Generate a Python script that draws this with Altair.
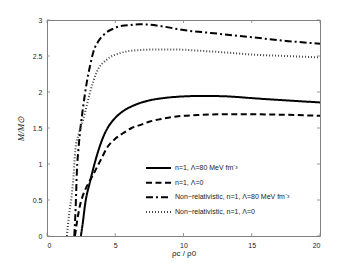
import altair as alt
import pandas as pd

# ---- data ----
series_names = [
    "n=1, Λ=80 MeV fm⁻³",
    "n=1, Λ=0",
    "Non−relativistic, n=1, Λ=80 MeV fm⁻³",
    "Non−relativistic, n=1, Λ=0",
]

s1_x = [2.48, 2.6, 2.8, 3.16, 3.45, 3.77, 4.13, 4.5, 4.9, 5.4, 5.84, 6.57, 7.42, 8.5, 9.5, 11, 12.5, 14, 15, 17, 20]
s1_y = [0, 0.15, 0.45, 0.76, 0.98, 1.19, 1.38, 1.52, 1.62, 1.71, 1.765, 1.83, 1.88, 1.915, 1.933, 1.944, 1.943, 1.93, 1.915, 1.89, 1.855]

s2_x = [2.05, 2.2, 2.45, 2.75, 3.05, 3.35, 3.7, 4.0, 4.38, 5.0, 5.59, 6.2, 6.81, 7.54, 8.5, 9.5, 11, 12.5, 14, 15, 17, 20]
s2_y = [0, 0.2, 0.45, 0.62, 0.74, 0.84, 0.97, 1.08, 1.22, 1.35, 1.43, 1.5, 1.54, 1.59, 1.63, 1.66, 1.68, 1.69, 1.69, 1.69, 1.685, 1.67]

s3_x = [2.0, 2.1, 2.19, 2.31, 2.45, 2.63, 2.92, 3.15, 3.4, 3.75, 4.13, 4.86, 5.5, 6.08, 6.8, 7.5, 8.5, 10, 12, 15, 17.5, 20]
s3_y = [0, 0.4, 0.9, 1.22, 1.5, 1.77, 2.14, 2.36, 2.56, 2.7, 2.79, 2.88, 2.92, 2.93, 2.94, 2.935, 2.91, 2.86, 2.82, 2.76, 2.71, 2.67]

s4_x = [1.46, 1.62, 1.8, 1.95, 2.07, 2.3, 2.67, 2.92, 3.16, 3.65, 4.38, 5.35, 6.57, 8, 9.5, 11, 13, 15, 17.5, 20]
s4_y = [0, 0.3, 0.55, 0.85, 1.19, 1.4, 1.63, 1.82, 2.0, 2.28, 2.45, 2.54, 2.58, 2.59, 2.59, 2.575, 2.55, 2.52, 2.5, 2.48]

x_ticks = [0, 5, 10, 15, 20]
y_ticks = [0, 0.5, 1, 1.5, 2, 2.5, 3]

rows = []
for name, xs_, ys_ in zip(series_names, [s1_x, s2_x, s3_x, s4_x], [s1_y, s2_y, s3_y, s4_y]):
    for i, (a, b) in enumerate(zip(xs_, ys_)):
        rows.append({"series": name, "x": a, "y": b, "i": i})
df = pd.DataFrame(rows)
leg_df = pd.DataFrame({"series": series_names})
xt_df = pd.DataFrame({"x": x_ticks})
yt_df = pd.DataFrame({"y": y_ticks})

W, H = 273, 216
FONT = "Liberation Sans"

dash_scale = alt.Scale(domain=series_names, range=[[1, 0], [6, 3.5], [7, 3, 2, 3], [1, 2]])
width_scale = alt.Scale(domain=series_names, range=[2, 2, 2, 0.9])
color_scale = alt.Scale(domain=series_names, range=["#000000", "#000000", "#000000", "#444444"])
xs = alt.Scale(domain=[0, 20], nice=False)
ys = alt.Scale(domain=[0, 3], nice=False)

x_axis = alt.Axis(values=x_ticks, format="~g", title="ρc / ρ0",
                  ticks=False, tickSize=0, domain=False, grid=False,
                  labelPadding=5, titlePadding=1,
                  titleFont=FONT, titleFontSize=8, titleFontWeight="normal")
y_axis = alt.Axis(values=y_ticks, format="~g", title="M/M⊙",
                  ticks=False, tickSize=0, domain=False, grid=False,
                  labelPadding=5, titlePadding=7,
                  titleFont="Liberation Serif", titleFontStyle="italic",
                  titleFontSize=9, titleFontWeight="normal")

lines = alt.Chart(df).mark_line(interpolate="monotone", clip=True).encode(
    x=alt.X("x:Q", scale=xs, axis=x_axis, title="ρc / ρ0"),
    y=alt.Y("y:Q", scale=ys, axis=y_axis, title="M/M⊙"),
    color=alt.Color("series:N", scale=color_scale, legend=None),
    strokeDash=alt.StrokeDash("series:N", scale=dash_scale, legend=None),
    strokeWidth=alt.StrokeWidth("series:N", scale=width_scale, legend=None),
    order="i:Q",
)

tick_b = alt.Chart(xt_df).mark_rule(color="#808080", strokeWidth=0.8).encode(
    x=alt.X("x:Q", scale=xs, axis=x_axis, title="ρc / ρ0"), y=alt.value(H), y2=alt.value(H - 3))
tick_t = alt.Chart(xt_df).mark_rule(color="#808080", strokeWidth=0.8).encode(
    x=alt.X("x:Q", scale=xs, axis=x_axis, title="ρc / ρ0"), y=alt.value(0), y2=alt.value(3))
tick_l = alt.Chart(yt_df).mark_rule(color="#808080", strokeWidth=0.8).encode(
    y=alt.Y("y:Q", scale=ys, axis=y_axis, title="M/M⊙"), x=alt.value(0), x2=alt.value(3))
tick_r = alt.Chart(yt_df).mark_rule(color="#808080", strokeWidth=0.8).encode(
    y=alt.Y("y:Q", scale=ys, axis=y_axis, title="M/M⊙"), x=alt.value(W), x2=alt.value(W - 3))

main = alt.layer(lines, tick_b, tick_t, tick_l, tick_r)

leg_y = alt.Y("series:N", scale=alt.Scale(type="point", domain=series_names, range=[148, 192], padding=0),
              axis=None)
leg_lines = alt.Chart(leg_df).mark_rule().encode(
    y=leg_y, x=alt.value(99), x2=alt.value(124),
    color=alt.Color("series:N", scale=color_scale, legend=None),
    strokeDash=alt.StrokeDash("series:N", scale=dash_scale, legend=None),
    strokeWidth=alt.StrokeWidth("series:N", scale=width_scale, legend=None),
)
leg_text = alt.Chart(leg_df).mark_text(align="left", baseline="middle", font=FONT, fontSize=7,
                                       color="#222222").encode(
    y=leg_y, x=alt.value(128), text="series:N")

legend = alt.layer(leg_lines, leg_text)

chart = alt.layer(main, legend).resolve_scale(
    y="independent"
).properties(
    width=W, height=H,
    autosize=alt.AutoSizeParams(type="none"),
    padding={"left": 39, "top": 12, "right": 26, "bottom": 23},
).configure_view(stroke="#808080", strokeWidth=1).configure_axis(
    labelFont=FONT, labelFontSize=7, labelColor="#222222", titleColor="#222222"
)

chart.save("out.html", embed_options={"renderer": "svg", "actions": False})
